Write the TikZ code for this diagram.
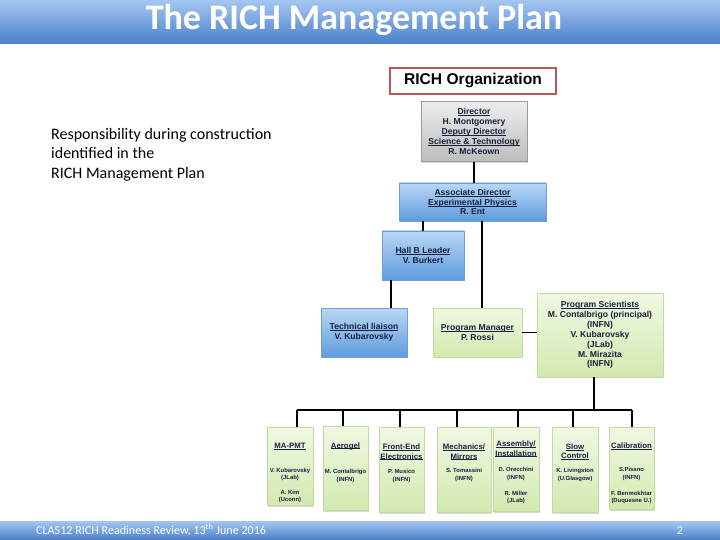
\documentclass[tikz,border=0pt]{standalone}
\usepackage{fontspec}
\setmainfont{Liberation Sans}
\newfontfamily\calibri{Carlito}
\usetikzlibrary{shadows}
\definecolor{hdrTop}{HTML}{A3C7F2}
\definecolor{hdrBot}{HTML}{4A7FCA}
\definecolor{grayTop}{HTML}{EDEDED}
\definecolor{grayBot}{HTML}{BDBDBD}
\definecolor{grayEdge}{HTML}{9A9A9A}
\definecolor{blueTop}{HTML}{B9D7F5}
\definecolor{blueBot}{HTML}{5E9CDF}
\definecolor{blueEdge}{HTML}{6E9FD6}
\definecolor{greenTop}{HTML}{F0F8E2}
\definecolor{greenBot}{HTML}{D3E9AF}
\definecolor{greenEdge}{HTML}{C2D9A0}
\definecolor{orgRed}{HTML}{B9585B}
\definecolor{navy}{HTML}{15213F}
\newcommand\ulx[1]{{\setbox0\hbox{#1}\rlap{\rule[-0.13em]{\wd0}{0.08em}}\box0}}
\tikzset{
  orgbox/.style={inner sep=0pt, align=center, text=navy,
    font=\bfseries\fontsize{8.6}{9.9}\selectfont,
    drop shadow={shadow xshift=1.2pt, shadow yshift=-1.4pt, opacity=0.3}},
  graybox/.style={orgbox, draw=grayEdge, line width=0.5pt, top color=grayTop, bottom color=grayBot},
  bluebox/.style={orgbox, draw=blueEdge, line width=0.5pt, top color=blueTop, bottom color=blueBot},
  greenbox/.style={orgbox, draw=greenEdge, line width=0.5pt, top color=greenTop, bottom color=greenBot},
  unitbox/.style={greenbox, anchor=north west},
  unittitle/.style={inner sep=0pt, align=center, text=navy, font=\bfseries\fontsize{7.8}{9.4}\selectfont},
  unitname/.style={inner sep=0pt, align=center, text=navy, font=\bfseries\fontsize{5.9}{7.2}\selectfont},
  wire/.style={line width=1.6pt, black},
  bar/.style={top color=hdrTop, bottom color=hdrBot, draw=none}
}
\begin{document}
\begin{tikzpicture}[x=1pt,y=-1pt]
\useasboundingbox (0,0) rectangle (720,540);
\fill[white] (0,0) rectangle (720,540);

% header and footer bars
\path[bar] (0,0) rectangle (720,44);
\node[text=white, font=\calibri\bfseries\fontsize{36}{36}\selectfont, inner sep=0pt] (title) at (354,20) {The RICH Management Plan};
\path[bar] (0,521) rectangle (720,540);
\node[text=white, font=\calibri\fontsize{12.1}{13}\selectfont, inner sep=0pt, anchor=west] (foot) at (36,530) {CLAS12 RICH Readiness Review, 13\textsuperscript{th} June 2016};
\node[text=white, font=\calibri\fontsize{12.1}{13}\selectfont, inner sep=0pt] (pageno) at (680,531) {2};

% left text
\node[anchor=north west, inner sep=0pt, align=left, font=\calibri\fontsize{16}{19.5}\selectfont] (resp) at (51,128)
  {Responsibility during construction\\identified in the\\RICH Management Plan};

% RICH organization
\node[draw=orgRed, line width=1.3pt, fill=white, minimum width=166, minimum height=26, inner sep=0pt,
      font=\bfseries\fontsize{15.6}{16}\selectfont] (org) at (473,81) {RICH Organization};

\node[graybox, minimum width=106, minimum height=60] (dir) at (474,131.5)
  {\ulx{Director}\\H. Montgomery\\\ulx{Deputy Director}\\\ulx{Science \& Technology}\\R. McKeown};
\node[bluebox, minimum width=147, minimum height=38] (assoc) at (472.5,202)
  {\ulx{Associate Director}\\\ulx{Experimental Physics}\\R. Ent};
\node[bluebox, minimum width=82, minimum height=49] (hallb) at (423,255.5)
  {\ulx{Hall B Leader}\\V. Burkert};
\node[bluebox, minimum width=86, minimum height=49] (tech) at (364,332.5)
  {\ulx{Technical liaison}\\V. Kubarovsky};
\node[greenbox, minimum width=89, minimum height=49] (pm) at (477.5,332.5)
  {\ulx{Program Manager}\\P. Rossi};
\node[greenbox, minimum width=126, minimum height=84] (ps) at (600,335)
  {\ulx{Program Scientists}\\M. Contalbrigo (principal)\\(INFN)\\V. Kubarovsky\\(JLab)\\M. Mirazita\\(INFN)};

% connectors upper part
\draw[wire] (dir.south) -- (dir.south |- assoc.north);
\draw[wire] (hallb.north) -- (hallb.north |- assoc.south);
\draw[wire] ([xshift=4.5pt]pm.north) -- ([xshift=4.5pt]pm.north |- assoc.south);
\draw[wire] ([xshift=9pt]hallb.south west) -- ([xshift=9pt]hallb.south west |- tech.north);
\draw[wire] (pm.east) -- (ps.west |- pm.east);

% bottom units
\node[unitbox, minimum width=46, minimum height=78] (ma) at (267,427) {};
\node[unitbox, minimum width=45, minimum height=84] (aer) at (323,426) {};
\node[unitbox, minimum width=45, minimum height=85] (fe) at (379,427) {};
\node[unitbox, minimum width=54, minimum height=85] (mech) at (437,427) {};
\node[unitbox, minimum width=46, minimum height=84] (asm) at (493,427) {};
\node[unitbox, minimum width=46, minimum height=85] (slow) at (552,427) {};
\node[unitbox, minimum width=45, minimum height=82] (cal) at (609,427) {};

\node[unittitle] (maT) at (290,446) {\ulx{MA-PMT}};
\node[unitname] (maN1) at (290,474.5) {V. Kubarovsky\\(JLab)};
\node[unitname] (maN2) at (290,496.5) {A. Kim\\(Uconn)};

\node[unittitle] (aerT) at (345.5,446) {\ulx{Aerogel}};
\node[unitname] (aerN) at (345.5,476) {M. Contalbrigo\\(INFN)};

\node[unittitle] (feT) at (401.5,452) {\ulx{Front-End}\\\ulx{Electronics}};
\node[unitname] (feN) at (401.5,476) {P. Musico\\(INFN)};

\node[unittitle] (mechT) at (464,452) {\ulx{Mechanics/}\\\ulx{Mirrors}};
\node[unitname] (mechN) at (464,475) {S. Tomassini\\(INFN)};

\node[unittitle] (asmT) at (516,449) {\ulx{Assembly/}\\\ulx{Installation}};
\node[unitname] (asmN1) at (516,474) {D. Orecchini\\(INFN)};
\node[unitname] (asmN2) at (516,497.5) {R. Miller\\(JLab)};

\node[unittitle] (slowT) at (575,451.5) {\ulx{Slow}\\\ulx{Control}};
\node[unitname] (slowN) at (575,475) {K. Livingston\\(U.Glasgow)};

\node[unittitle] (calT) at (631.5,446) {\ulx{Calibration}};
\node[unitname] (calN1) at (631.5,474) {S.Pisano\\(INFN)};
\node[unitname] (calN2) at (631.5,497.5) {F. Benmokhtar\\(Duquesne U.)};

% bus
\coordinate (busL) at (297,410);
\coordinate (busR) at (632,410);
\draw[wire] (busL) -- (busR);
\draw[wire] (ps.south -| 594,0) -- (594,410);
\draw[wire] (busL) -- (busL |- ma.north);
\draw[wire] ([xshift=-2.5pt]aer.north) -- ([xshift=-2.5pt]aer.north |- busL);
\draw[wire] ([xshift=-1.5pt]fe.north) -- ([xshift=-1.5pt]fe.north |- busL);
\draw[wire] ([xshift=-7pt]mech.north) -- ([xshift=-7pt]mech.north |- busL);
\draw[wire] ([xshift=2pt]asm.north) -- ([xshift=2pt]asm.north |- busL);
\draw[wire] ([xshift=-2pt]slow.north) -- ([xshift=-2pt]slow.north |- busL);
\draw[wire] (busR) -- (busR |- cal.north);
\end{tikzpicture}
\end{document}
